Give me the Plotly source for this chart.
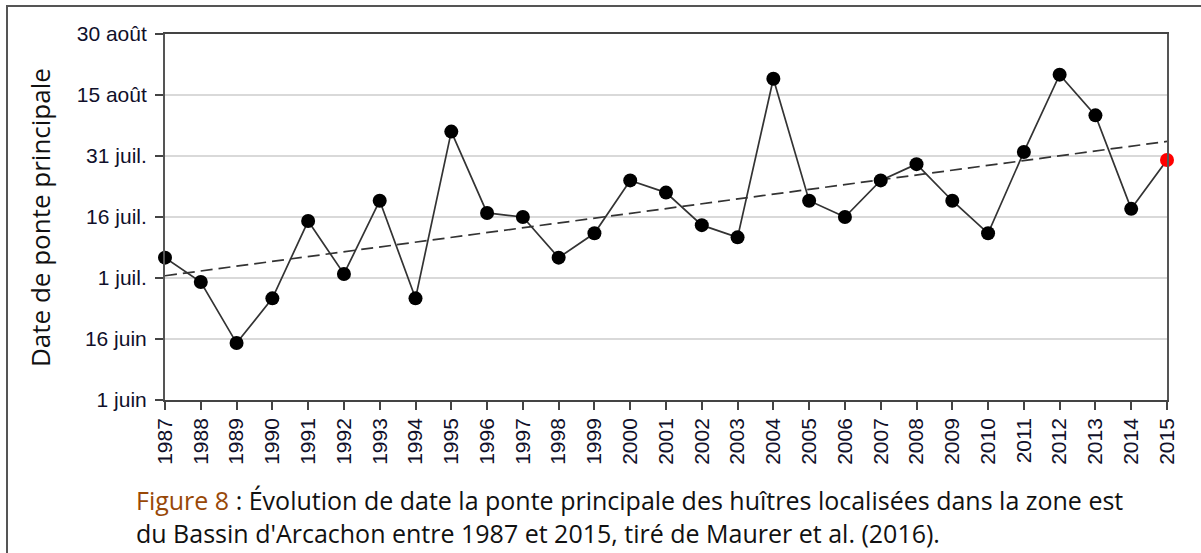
import numpy as np
import plotly.graph_objects as go

# ---- data ----
years = list(range(1987, 2016))
# spawning date, in days after 1 June
spawn_days = [35, 29, 14, 25, 44, 31, 49, 25, 66, 46, 45, 35, 41, 54, 51,
              43, 40, 79, 49, 45, 54, 58, 49, 41, 61, 80, 70, 47, 59]
y_tick_days = [0, 15, 30, 45, 60, 75, 90]
y_tick_labels = ["1 juin", "16 juin", "1 juil.", "16 juil.", "31 juil.", "15 août", "30 août"]
highlight_year = 2015

# linear trend computed from the data
slope, intercept = np.polyfit(years, spawn_days, 1)
trend_x = [years[0], years[-1]]
trend_y = [slope * x + intercept for x in trend_x]

W, H = 1201, 553
L, R, T, B = 165, 34, 34, 153
pw = W - L - R
ph = H - T - B

def px(x):
    return (x - L) / pw

def py(y):
    return (H - B - y) / ph

fig = go.Figure()

fig.add_trace(go.Scatter(
    x=trend_x, y=trend_y, mode="lines",
    line=dict(color="#333333", width=1.7, dash="12px,6px"),
    hoverinfo="skip", showlegend=False, cliponaxis=False,
))

marker_colors = ["#ff0000" if yr == highlight_year else "#000000" for yr in years]
fig.add_trace(go.Scatter(
    x=years, y=spawn_days, mode="lines+markers",
    line=dict(color="#333333", width=1.7),
    marker=dict(color=marker_colors, size=14, line=dict(width=0)),
    showlegend=False, cliponaxis=False,
))

tick_font = dict(family="Liberation Sans, Arial, sans-serif", size=21, color="#10102a")

fig.update_xaxes(
    range=[1987, 2015], tickmode="array", tickvals=years,
    ticktext=[str(y) for y in years], tickangle=-90,
    ticks="outside", ticklen=8, tickwidth=1.5, tickcolor="#444",
    showline=True, linecolor="#444", linewidth=1.5, mirror=True,
    showgrid=False, zeroline=False, tickfont=tick_font,
)
fig.update_yaxes(
    range=[0, 90], tickmode="array", tickvals=y_tick_days, ticktext=y_tick_labels,
    ticks="outside", ticklen=8, tickwidth=1.5, tickcolor="#444",
    showline=True, linecolor="#555", linewidth=2, mirror=True,
    showgrid=True, gridcolor="#d9d9d9", gridwidth=1.5, zeroline=False,
    tickfont=tick_font, ticklabelstandoff=4,
)

# y axis title
fig.add_annotation(
    xref="paper", yref="paper", x=px(40), y=py(218),
    text="Date de ponte principale", textangle=-90, showarrow=False,
    font=dict(family="Open Sans, sans-serif", size=26, color="#111"),
    xanchor="center", yanchor="middle",
)

cap_font = dict(family="Open Sans, sans-serif", size=25, color="#111")
fig.add_annotation(
    xref="paper", yref="paper", x=px(134), y=py(500),
    text="<span style='color:#984807'>Figure 8</span> : Évolution de date la ponte principale des huîtres localisées dans la zone est",
    showarrow=False, font=cap_font, xanchor="left", yanchor="middle",
)
fig.add_annotation(
    xref="paper", yref="paper", x=px(134), y=py(533),
    text="du Bassin d'Arcachon entre 1987 et 2015, tiré de Maurer et al. (2016).",
    showarrow=False, font=cap_font, xanchor="left", yanchor="middle",
)

# outer frame
fig.add_shape(
    type="rect", xref="paper", yref="paper",
    x0=px(7), x1=px(1215), y0=py(565), y1=py(6),
    line=dict(color="#555", width=2), fillcolor="rgba(0,0,0,0)", layer="below",
)

fig.update_layout(
    width=W, height=H,
    margin=dict(l=L, r=R, t=T, b=B, pad=0),
    paper_bgcolor="white", plot_bgcolor="white",
    showlegend=False,
)

fig.write_html(
    "out.html",
    config={"displayModeBar": False},
    post_script="document.body.style.margin='0';document.body.style.overflow='hidden';",
)
